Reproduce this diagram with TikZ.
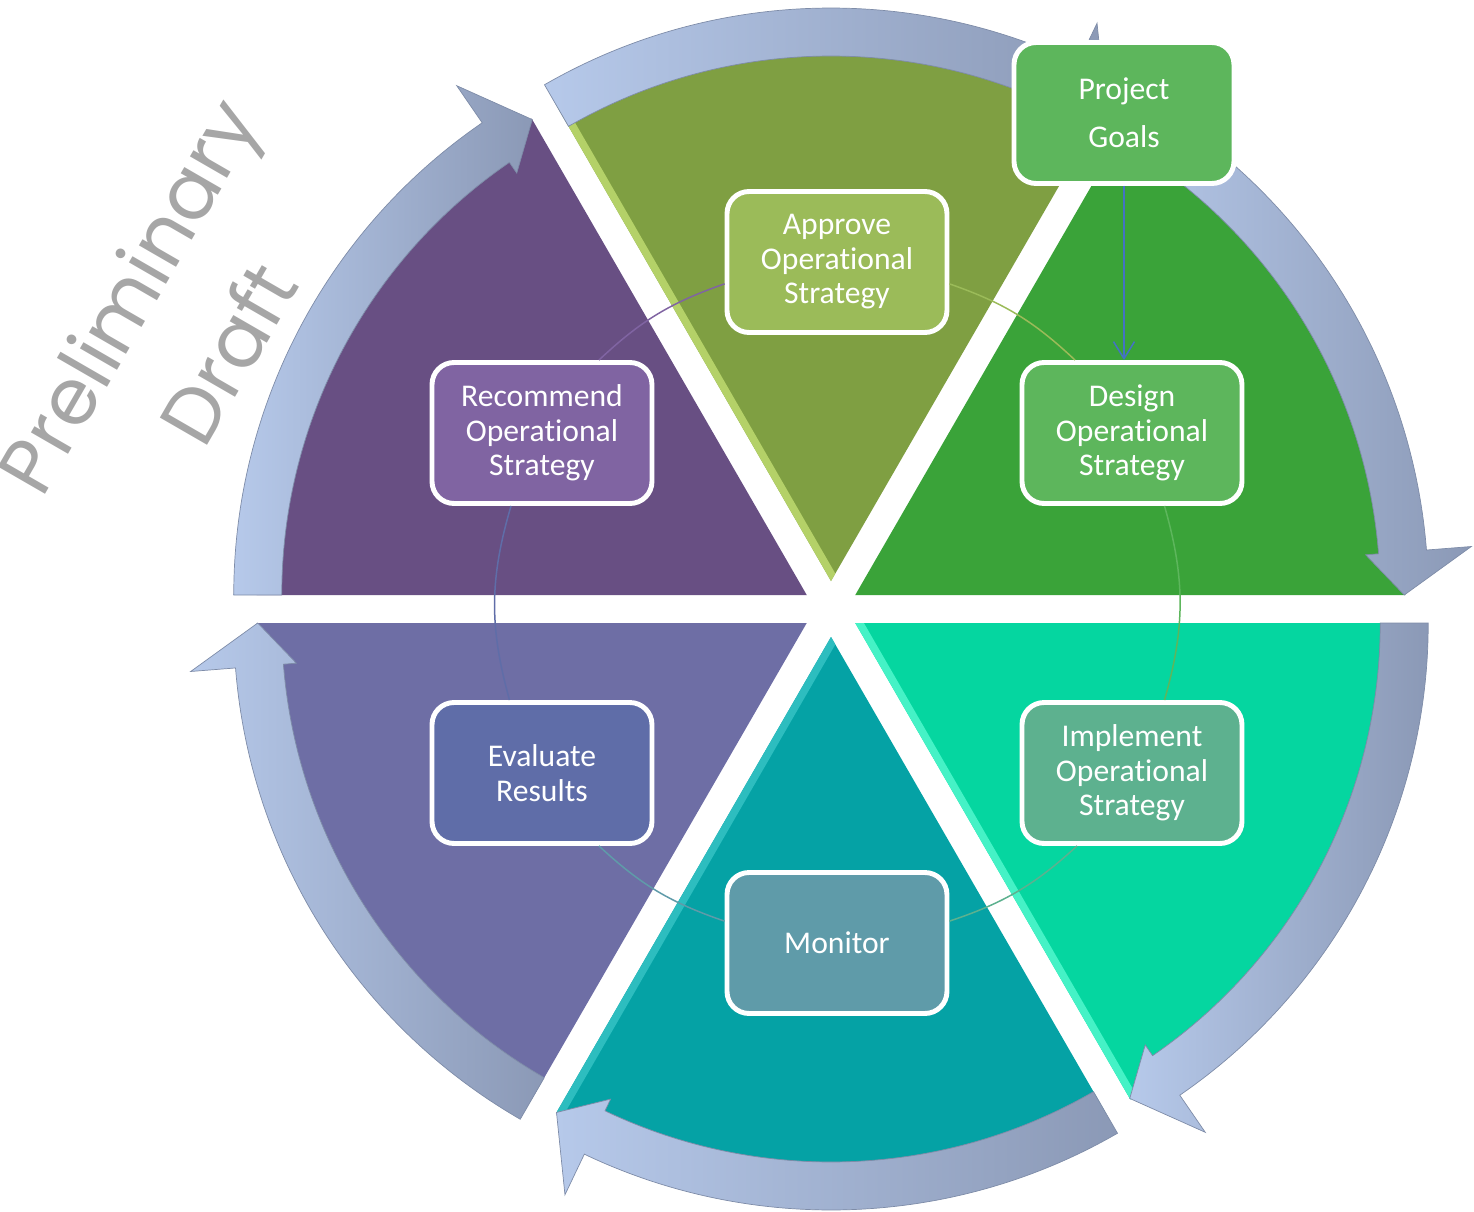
\documentclass[tikz,border=0pt]{standalone}
\usepackage{fontspec}
\setmainfont{Carlito}[Ligatures=NoCommon, RawFeature={-liga;-calt;-dlig}]
\newfontfamily\draftfont{Poppins}
\usepackage{tikz}
\usetikzlibrary{arrows.meta}

\definecolor{wheelolive}{HTML}{7F9F42}
\definecolor{wheelgreen}{HTML}{3AA339}
\definecolor{wheelmint}{HTML}{05D6A0}
\definecolor{wheelteal}{HTML}{05A2A5}
\definecolor{wheellavender}{HTML}{6E6EA5}
\definecolor{wheelpurple}{HTML}{684F83}
\definecolor{rimolive}{HTML}{B4D168}
\definecolor{rimmint}{HTML}{45F2C6}
\definecolor{rimteal}{HTML}{2DBDBF}
\definecolor{goalfill}{HTML}{5DB65C}
\definecolor{approvefill}{HTML}{9BBB59}
\definecolor{designfill}{HTML}{5DB65C}
\definecolor{implementfill}{HTML}{5DB18F}
\definecolor{monitorfill}{HTML}{5F9BA9}
\definecolor{evaluatefill}{HTML}{5F6DA8}
\definecolor{recommendfill}{HTML}{8064A2}
\definecolor{flowlight}{HTML}{B6C9EA}
\definecolor{flowdark}{HTML}{8B99B6}
\definecolor{flowedge}{HTML}{7E8CA8}
\definecolor{draftgrey}{HTML}{A6A6A6}
\definecolor{goalblue}{HTML}{4472C4}

\tikzset{
    stage/.style = {
        draw=white,
        shape=rectangle,
        rounded corners=0.44cm,
        minimum width=4.4cm,
        minimum height=2.82cm,
        line width=2.8pt,
        text=white,
        align=center,
        font=\fontsize{18}{19.6}\selectfont
    },
    link/.style = {
        line width=0.85pt
    },
    flow/.style = {
        left color=flowlight,
        right color=flowdark,
        draw=flowedge,
        line width=0.4pt
    },
    watermark/.style = {
        text=draftgrey,
        align=center,
        font=\draftfont\fontsize{44.5}{66}\selectfont
    },
    >={Straight Barb[length=0.34cm,width=0.42cm]},
}

% one slice of the wheel: #1 bisector angle, #2 colour
\newcommand{\wheelpart}[2]{%
    \fill[#2, shift={(#1:28)}] (0,0) -- (#1-30:550)
        arc[start angle=#1-30, end angle=#1+30, radius=550] -- cycle;}
% light rim on one edge of a slice: #1 bisector, #2 edge angle, #3 colour
\newcommand{\wheelrim}[3]{%
    \begin{scope}[shift={(#1:28)}]
        \clip (0,0) -- (#1-30:550)
            arc[start angle=#1-30, end angle=#1+30, radius=550] -- cycle;
        \draw[#3, line width=0.3cm] (0,0) -- (#2:560);
    \end{scope}}
% curved arrow round a slice, clockwise: #1 bisector angle
\newcommand{\wheelturn}[1]{%
    \path[flow, shift={(#1:28)}] (#1+30:525) -- (#1+30:573)
        arc[start angle=#1+30, end angle=#1-25.5, radius=573]
        -- (#1-25.5:618) -- (#1-30:549) -- (#1-25.5:512) -- (#1-25.5:525)
        arc[start angle=#1-25.5, end angle=#1+30, radius=525] -- cycle;}

\begin{document}
\begin{tikzpicture}[x=0.02cm, y=0.02cm]
    \useasboundingbox (-831,-602) rectangle (643,609);

    % slices
    \wheelpart{90}{wheelolive}
    \wheelpart{30}{wheelgreen}
    \wheelpart{-30}{wheelmint}
    \wheelpart{-90}{wheelteal}
    \wheelpart{-150}{wheellavender}
    \wheelpart{150}{wheelpurple}
    \wheelrim{90}{120}{rimolive}
    \wheelrim{-30}{-60}{rimmint}
    \wheelrim{-90}{-120}{rimteal}

    % arrows round the wheel
    \wheelturn{90}
    \wheelturn{30}
    \wheelturn{-30}
    \wheelturn{-90}
    \wheelturn{-150}
    \wheelturn{150}

    \node[watermark, rotate=60] (draft) at (-654,285) {Preliminary\\Draft};

    \node[stage, fill=approvefill] (approve) at (6,347) {Approve\\Operational\\Strategy};
    \node[stage, fill=designfill] (design) at (301,176) {Design\\Operational\\Strategy};
    \node[stage, fill=implementfill] (implement) at (301,-164) {Implement\\Operational\\Strategy};
    \node[stage, fill=monitorfill] (monitor) at (6,-334) {Monitor};
    \node[stage, fill=evaluatefill] (evaluate) at (-289,-164) {Evaluate\\Results};
    \node[stage, fill=recommendfill] (recommend) at (-289,176) {Recommend\\Operational\\Strategy};
    \node[stage, fill=goalfill] (goals) at (293,496) {Project\\[7.5pt]Goals};

    \path[draw, link, recommendfill] (recommend.52) to[bend left=12] (approve.191);
    \path[draw, link, approvefill] (approve.-11) to[bend left=12] (design.128);
    \path[draw, link, designfill] (design.-66) to[bend left=16] (implement.66);
    \path[draw, link, implementfill] (implement.-127) to[bend left=12] (monitor.11);
    \path[draw, link, monitorfill] (monitor.169) to[bend left=12] (evaluate.-52);
    \path[draw, link, evaluatefill] (evaluate.114) to[bend left=16] (recommend.-113);

    \path[draw, link, goalblue, ->] (goals.south) -- (goals.south |- design.north);
\end{tikzpicture}
\end{document}
